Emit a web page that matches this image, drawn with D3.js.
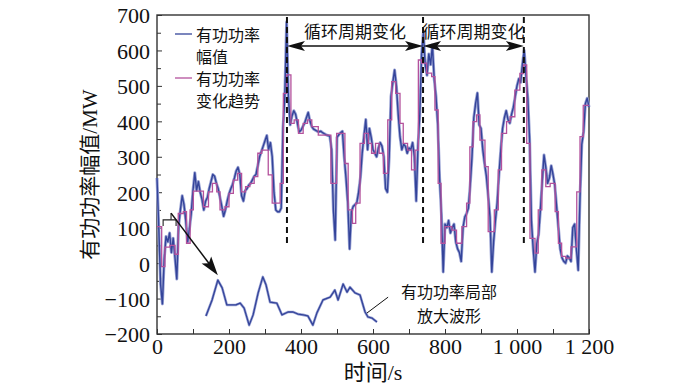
<!DOCTYPE html>
<html>
<head>
<meta charset="utf-8">
<script src="https://cdn.jsdelivr.net/npm/d3@7"></script>
<style>
  body { margin: 0; background: #fff; }
  svg { display: block; }
</style>
</head>
<body>
<div id="chart"></div>
<script>
// active power amplitude, sampled every 5 s (MW)
const stepSeconds = 5
const powerValues = [
  240, 100, -60, -115, 10, 75, 60, 85, 30, 70, 15, -45, 105, 150, 190, 165, 120, 60, 95, 140,
  205, 255, 205, 230, 200, 180, 150, 175, 185, 210, 230, 250, 245, 225, 210, 185, 160, 132, 150, 175,
  195, 210, 222, 240, 260, 270, 250, 190, 175, 205, 210, 220, 225, 235, 245, 250, 275, 300, 315, 330,
  345, 360, 320, 340, 300, 200, 150, 145, 145, 155, 380, 470, 680, 470, 390, 415, 430, 420, 395, 370,
  375, 385, 395, 410, 425, 400, 385, 378, 375, 372, 370, 372, 368, 365, 362, 360, 358, 320, 150, 65,
  355, 362, 368, 372, 300, 240, 170, 40, 145, 160, 165, 170, 200, 240, 310, 360, 405, 320, 380, 355,
  320, 310, 300, 325, 340, 330, 300, 210, 200, 300, 470, 510, 545, 500, 420, 357, 320, 335, 330, 310,
  325, 320, 340, 300, 175, 330, 420, 590, 650, 560, 530, 590, 560, 615, 520, 470, 390, 240, 140, -25,
  110, 100, 120, 85, 100, 110, 60, 40, 30, 5, 100, 130, 140, 155, 220, 300, 410, 450, 480, 390,
  380, 320, 280, 245, 190, 130, -25, 60, 120, 170, 250, 320, 380, 410, 430, 405, 395, 420, 440, 470,
  500, 520, 510, 560, 600, 530, 465, 350, 120, 40, -25, 55, 80, 150, 230, 305, 270, 225, 240, 275,
  250, 220, 160, 100, 40, 15, 5, 0, 20, 15, 5, 100, 110, 40, -20, 185, 335, 370, 450, 465,
  440
]

// trend of active power: step start time (s) and level (MW)
const trendTimes = [
  0, 13, 22, 36, 50, 59, 73, 82, 92, 101, 129, 143, 154, 166, 175, 189, 200, 212, 224, 235,
  246, 258, 270, 280, 291, 309, 320, 342, 351, 360, 372, 381, 393, 406, 418, 430, 448, 483, 499, 522,
  531, 543, 552, 564, 576, 587, 596, 607, 617, 629, 641, 652, 663, 675, 684, 696, 707, 717, 726, 735,
  749, 763, 772, 781, 789, 800, 819, 832, 847, 860, 869, 878, 888, 897, 911, 920, 937, 948, 957, 971,
  981, 994, 1008, 1018, 1027, 1036, 1050, 1059, 1069, 1080, 1092, 1106, 1115, 1124, 1135, 1150, 1166, 1175, 1184, 1200
]
const trendValues = [
  103, -10, 45, 50, 25, 140, 145, 56, 150, 203, 159, 201, 225, 201, 150, 159, 197, 234, 253, 201,
  216, 225, 244, 310, 319, 249, 169, 225, 479, 531, 394, 404, 366, 394, 404, 385, 361, 225, 366, 281,
  150, 112, 169, 338, 366, 338, 310, 338, 310, 253, 404, 512, 479, 394, 338, 319, 263, 319, 573, 564,
  536, 526, 432, 225, 56, 103, 93, 56, 103, 169, 328, 399, 418, 347, 272, 89, 150, 263, 366, 399,
  413, 488, 535, 559, 338, 70, 28, 150, 263, 216, 225, 145, 56, 19, 14, 46, 201, 357, 445, 445
]

// zoomed local waveform (drawn in the lower blank area)
const insetTimes = [136, 153, 169, 181, 194, 208, 219, 231, 242, 256, 267, 281, 294, 303, 314, 333, 347, 364, 378,
  392, 406, 419, 433, 444, 461, 481, 494, 503, 517, 528, 536, 550, 564, 578, 586, 597, 611]
const insetValues = [-149, -104, -48, -70, -118, -118, -118, -113, -127, -175, -146, -84, -39, -62, -110, -113, -146, -138, -138,
  -144, -146, -149, -175, -141, -104, -96, -76, -104, -59, -82, -68, -84, -90, -138, -152, -155, -166]

// cycle boundaries (s)
const cycleTimes = [361, 739, 1019]
const cycleLabel = "循环周期变化"

const xTicks = [0, 200, 400, 600, 800, 1000, 1200]
const xMinorTicks = [100, 300, 500, 700, 900, 1100]
const yTicks = [-200, -100, 0, 100, 200, 300, 400, 500, 600, 700]
const yMinorTicks = [-150, -50, 50, 150, 250, 350, 450, 550, 650]

const legendNames = [["有功功率", "幅值"], ["有功功率", "变化趋势"]]
const colors = ["#34449a", "#b4519c"]
const haloColor = "#9aa3d4"

const width = 700, height = 387
const margin = {top: 15, right: 111, bottom: 53, left: 157}
const serif = "'Liberation Serif','Times New Roman','Noto Sans CJK SC',serif"
const cjk = "'Noto Sans CJK SC','Noto Sans',sans-serif"

const svg = d3.select("#chart").append("svg")
  .attr("width", width).attr("height", height)

const x = d3.scaleLinear().domain([0, 1200]).range([margin.left, width - margin.right])
const y = d3.scaleLinear().domain([-200, 700]).range([height - margin.bottom, margin.top])

// axes with inward ticks
const fmtX = d => d >= 1000 ? d3.format(",")(d).replace(",", " ") : d
const xAxis = svg.append("g")
  .attr("transform", `translate(0,${y(-200)})`)
  .call(d3.axisBottom(x).tickValues(xTicks).tickSize(-5).tickPadding(6).tickFormat(fmtX))
svg.append("g")
  .attr("transform", `translate(0,${y(-200)})`)
  .call(d3.axisBottom(x).tickValues(xMinorTicks).tickSize(-5).tickFormat(""))
const yAxis = svg.append("g")
  .attr("transform", `translate(${x(0)},0)`)
  .call(d3.axisLeft(y).tickValues(yTicks).tickSize(-5).tickPadding(7))
svg.append("g")
  .attr("transform", `translate(${x(0)},0)`)
  .call(d3.axisLeft(y).tickValues(yMinorTicks).tickSize(-4).tickFormat(""))

svg.selectAll(".domain").remove()
svg.selectAll(".tick line").attr("stroke", "#333").attr("stroke-width", 1)
svg.selectAll(".tick text")
  .attr("font-family", serif).attr("font-size", 22).attr("fill", "#111")
xAxis.selectAll(".tick text").attr("dy", "0.62em")
yAxis.selectAll(".tick text").attr("dy", "0.36em")

// frame
svg.append("rect")
  .attr("x", x(0)).attr("y", y(700))
  .attr("width", x(1200) - x(0)).attr("height", y(-200) - y(700))
  .attr("fill", "none").attr("stroke", "#333").attr("stroke-width", 1.4)

// axis titles
svg.append("text")
  .attr("x", (x(0) + x(1200)) / 2).attr("y", 380)
  .attr("text-anchor", "middle")
  .attr("font-family", serif).attr("font-size", 22).attr("fill", "#111")
  .text("时间/s")
svg.append("text")
  .attr("transform", `translate(90,${y(250)}) rotate(-90)`)
  .attr("text-anchor", "middle").attr("dominant-baseline", "central")
  .attr("font-family", serif).attr("font-size", 21).attr("fill", "#111")
  .text("有功功率幅值/MW")

// data lines
const powerData = powerValues.map((v, i) => [i * stepSeconds, v])
const trendData = trendTimes.map((t, i) => [t, trendValues[i]])
const insetData = insetTimes.map((t, i) => [t, insetValues[i]])
const line = d3.line().x(d => x(d[0])).y(d => y(d[1]))

// light halo under the amplitude trace, then the trace itself
svg.append("path").datum(powerData)
  .attr("d", line).attr("fill", "none")
  .attr("stroke", haloColor).attr("stroke-width", 3).attr("stroke-linejoin", "round")
svg.append("path").datum(powerData)
  .attr("d", line).attr("fill", "none")
  .attr("stroke", colors[0]).attr("stroke-width", 1.4).attr("stroke-linejoin", "round")
svg.append("path").datum(trendData)
  .attr("d", d3.line().x(d => x(d[0])).y(d => y(d[1])).curve(d3.curveStepAfter)).attr("fill", "none")
  .attr("stroke", colors[1]).attr("stroke-width", 1.3)
svg.append("path").datum(insetData)
  .attr("d", line).attr("fill", "none")
  .attr("stroke", haloColor).attr("stroke-width", 2.6).attr("stroke-linejoin", "round")
svg.append("path").datum(insetData)
  .attr("d", line).attr("fill", "none")
  .attr("stroke", colors[0]).attr("stroke-width", 1.3).attr("stroke-linejoin", "round")

// legend
legendNames.forEach((names, i) => {
  const cy = i == 0 ? 34 : 78
  svg.append("line")
    .attr("x1", 175).attr("x2", 192).attr("y1", cy).attr("y2", cy)
    .attr("stroke", colors[i]).attr("stroke-width", 1.3)
  names.forEach((n, j) => {
    svg.append("text")
      .attr("x", 196).attr("y", cy + j * 22)
      .attr("dominant-baseline", "central")
      .attr("font-family", cjk).attr("font-size", 16).attr("fill", "#111")
      .text(n)
  })
})

// cycle markers: dashed lines and double arrows
cycleTimes.forEach(t => {
  svg.append("line")
    .attr("x1", x(t)).attr("x2", x(t)).attr("y1", 17).attr("y2", y(50))
    .attr("stroke", "#111").attr("stroke-width", 2).attr("stroke-dasharray", "6,4")
})
const arrowY = 46
const head = (tipX, dir) => {
  const len = 18, half = 5
  svg.append("path")
    .attr("d", `M${tipX},${arrowY} L${tipX + dir * len},${arrowY - half} L${tipX + dir * (len - 4)},${arrowY} L${tipX + dir * len},${arrowY + half} Z`)
    .attr("fill", "#111")
}
for (let i = 0; i < cycleTimes.length - 1; i++) {
  const a = x(cycleTimes[i]), b = x(cycleTimes[i + 1])
  svg.append("line")
    .attr("x1", a + 4).attr("x2", b - 4).attr("y1", arrowY).attr("y2", arrowY)
    .attr("stroke", "#111").attr("stroke-width", 1.3)
  head(a, 1)
  head(b, -1)
  svg.append("text")
    .attr("x", (a + b) / 2).attr("y", 30)
    .attr("text-anchor", "middle").attr("dominant-baseline", "central")
    .attr("font-family", cjk).attr("font-size", 17).attr("fill", "#111")
    .text(cycleLabel)
}

// bracket and arrow pointing to the zoomed waveform
svg.append("path")
  .attr("d", `M${x(17)},${y(105)} L${x(17)},${y(122)} L${x(53)},${y(122)} L${x(53)},${y(105)}`)
  .attr("fill", "none").attr("stroke", "#222").attr("stroke-width", 1.1)
svg.append("line")
  .attr("x1", x(39)).attr("y1", y(122)).attr("x2", x(39)).attr("y2", y(141))
  .attr("stroke", "#222").attr("stroke-width", 1.1)
const ax1 = x(39), ay1 = y(141), ax2 = x(169), ay2 = y(-34)
const ang = Math.atan2(ay2 - ay1, ax2 - ax1)
svg.append("line")
  .attr("x1", ax1).attr("y1", ay1)
  .attr("x2", ax2 - 14 * Math.cos(ang)).attr("y2", ay2 - 14 * Math.sin(ang))
  .attr("stroke", "#111").attr("stroke-width", 1.5)
svg.append("path")
  .attr("d", "M0,0 L-19,-6 L-15,0 L-19,6 Z")
  .attr("transform", `translate(${ax2},${ay2}) rotate(${ang * 180 / Math.PI})`)
  .attr("fill", "#111")

// label for the zoomed waveform
svg.append("line")
  .attr("x1", x(583)).attr("y1", y(-141)).attr("x2", x(642)).attr("y2", y(-96))
  .attr("stroke", "#111").attr("stroke-width", 1)
;["有功功率局部", "放大波形"].forEach((s, i) => {
  svg.append("text")
    .attr("x", 449).attr("y", 291 + i * 24)
    .attr("text-anchor", "middle").attr("dominant-baseline", "central")
    .attr("font-family", cjk).attr("font-size", 16).attr("fill", "#111")
    .text(s)
})
</script>
</body>
</html>
